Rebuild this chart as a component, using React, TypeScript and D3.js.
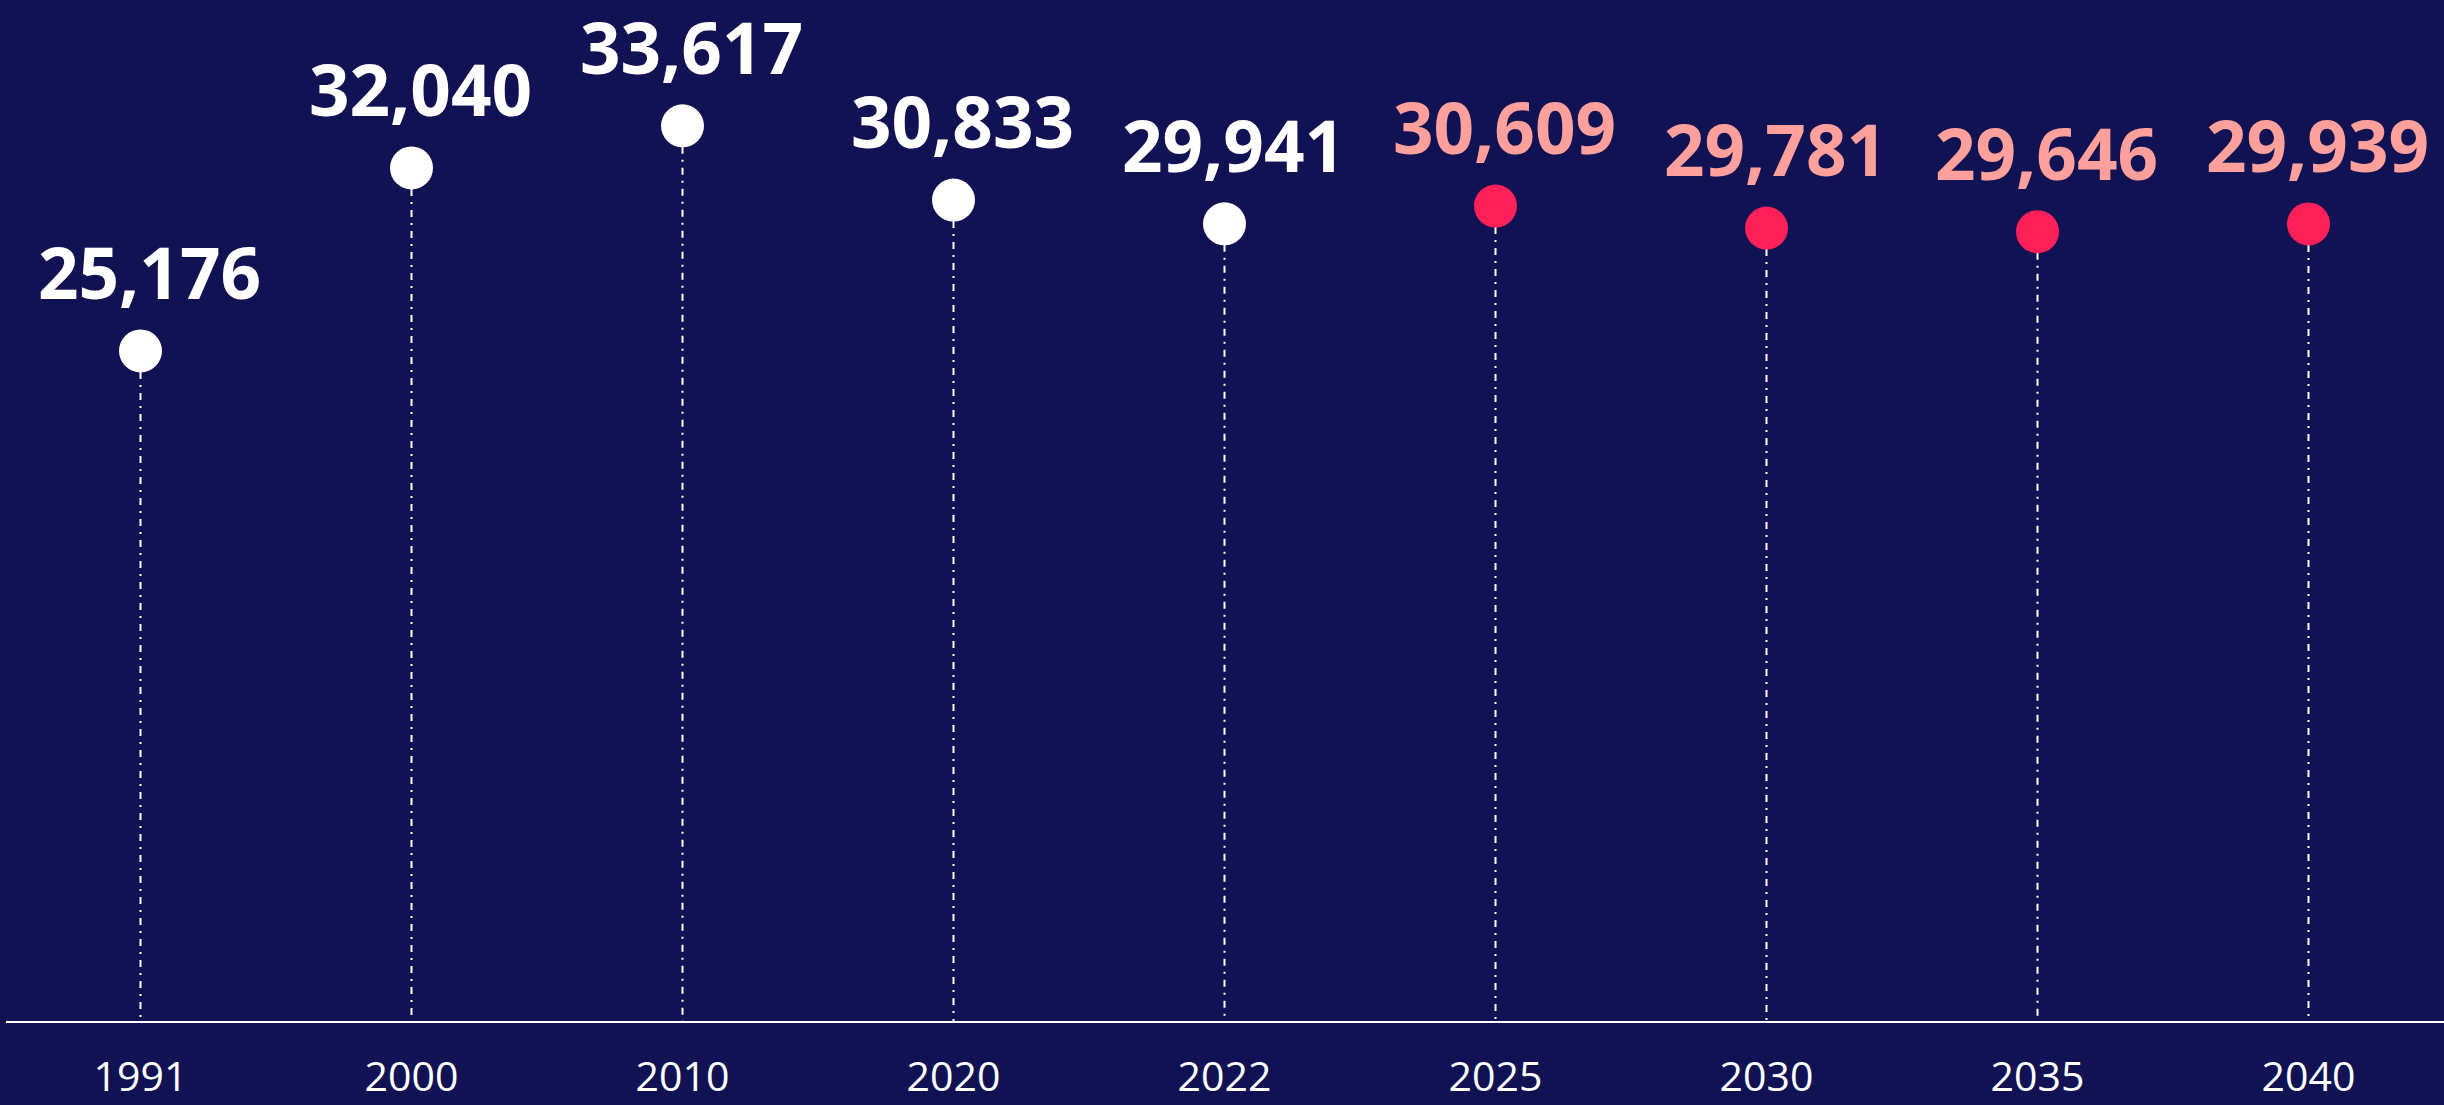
import React from "react";
import * as d3 from "d3";

const years = ["1991", "2000", "2010", "2020", "2022", "2025", "2030", "2035", "2040"];
const values = [25176, 32040, 33617, 30833, 29941, 30609, 29781, 29646, 29939];
const projected = [false, false, false, false, false, true, true, true, true];

const W = 2444;
const H = 1105;
const BG = "#101254";
const AXIS_Y = 1022;

export default function App() {
  const x = d3.scaleBand<string>().domain(years).range([5, 2444]).padding(0);
  const y = d3.scaleLinear().domain([0, 35000]).range([AXIS_Y, 89]);
  const fmt = d3.format(",");
  const cx = (yr: string) => (x(yr) as number) + x.bandwidth() / 2;

  return (
    <svg
      width={W}
      height={H}
      style={{ position: "fixed", left: 0, top: 0, display: "block" }}
      fontFamily="'Open Sans', 'Noto Sans', sans-serif"
    >
      <rect x={0} y={0} width={W} height={H} fill={BG} />
      {years.map((yr, i) => (
        <line
          key={"l" + yr}
          x1={cx(yr)}
          x2={cx(yr)}
          y1={y(values[i])}
          y2={AXIS_Y}
          stroke="#ffffff"
          strokeWidth={2}
          strokeDasharray="7 6 2 6"
        />
      ))}
      <line x1={6} x2={W} y1={AXIS_Y} y2={AXIS_Y} stroke="#ffffff" strokeWidth={2} />
      {years.map((yr, i) => (
        <g key={"p" + yr}>
          <circle cx={cx(yr)} cy={y(values[i])} r={21.5} fill={projected[i] ? "#FF1F59" : "#ffffff"} />
          <text
            x={cx(yr) + 9}
            y={y(values[i]) - 52}
            textAnchor="middle"
            fontSize={71}
            fontWeight={700}
            fill={projected[i] ? "#FFA09C" : "#ffffff"}
          >
            {fmt(values[i])}
          </text>
          <text x={cx(yr)} y={1091} textAnchor="middle" fontSize={41} fill="#ffffff">
            {yr}
          </text>
        </g>
      ))}
    </svg>
  );
}
